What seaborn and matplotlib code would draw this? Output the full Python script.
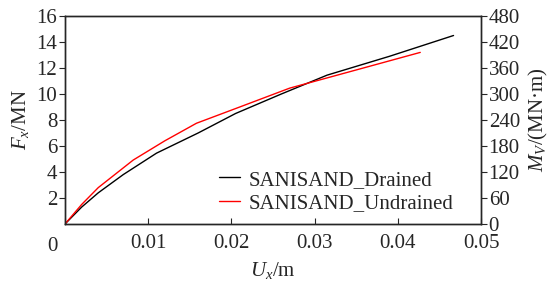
import matplotlib
matplotlib.use("Agg")
import matplotlib.pyplot as plt
import seaborn as sns
import pandas as pd

# Data
drained_ux = [0, 0.002, 0.004, 0.007, 0.011, 0.016, 0.0205, 0.026, 0.0315, 0.039, 0.0467]
drained_fx = [0, 1.3, 2.4, 3.8, 5.45, 7.0, 8.5, 10.0, 11.45, 12.9, 14.5]
undrained_ux = [0, 0.002, 0.004, 0.0082, 0.012, 0.0158, 0.021, 0.027, 0.035, 0.0427]
undrained_fx = [0, 1.5, 2.8, 4.92, 6.4, 7.75, 9.0, 10.45, 11.85, 13.2]
labels = ["SANISAND_Drained", "SANISAND_Undrained"]
x_ticks = [0, 0.01, 0.02, 0.03, 0.04, 0.05]
x_ticklabels = ["", "0.01", "0.02", "0.03", "0.04", "0.05"]
left_ticks = [2, 4, 6, 8, 10, 12, 14, 16]
right_ticks = [0, 60, 120, 180, 240, 300, 360, 420, 480]

sns.set_style("ticks")
plt.rcParams["font.family"] = ["Liberation Serif", "DejaVu Serif"]
plt.rcParams["mathtext.fontset"] = "custom"
plt.rcParams["mathtext.rm"] = "Liberation Serif"
plt.rcParams["mathtext.it"] = "Liberation Serif:italic"
plt.rcParams["font.size"] = 15

df = pd.concat([
    pd.DataFrame({"ux": drained_ux, "fx": drained_fx, "series": labels[0]}),
    pd.DataFrame({"ux": undrained_ux, "fx": undrained_fx, "series": labels[1]}),
])

fig = plt.figure(figsize=(5.5, 2.86), dpi=100)
ax = fig.add_axes([65/550, 1-224/286, 416/550, 208/286])
sns.lineplot(data=df, x="ux", y="fx", hue="series", palette={labels[0]: "black", labels[1]: "#ff0000"},
             sort=False, estimator=None, lw=1.0, ax=ax)
ax.set_xlim(0, 0.05)
ax.set_ylim(0, 16)
ax.set_xticks(x_ticks)
ax.set_xticklabels(x_ticklabels)
ax.set_yticks(left_ticks)
ax.tick_params(axis="x", direction="in", length=4, width=0.8, pad=7.5, labelsize=15)
ax.tick_params(axis="y", direction="out", length=4, width=0.8, pad=1.5, labelsize=15)
ax.annotate("0", xy=(-0.031, 0), xycoords="axes fraction", xytext=(0, -9.5),
            textcoords="offset points", ha="center", va="top", fontsize=15)
ax.set_xlabel(r"$U_x$/m", fontsize=15, labelpad=5)
ax.set_ylabel(r"$F_x$/MN", fontsize=15, labelpad=4)
for s in ax.spines.values():
    s.set_linewidth(1.0)

ax2 = ax.twinx()
ax2.set_ylim(0, 480)
ax2.set_yticks(right_ticks)
ax2.tick_params(axis="y", direction="out", length=4, width=0.8, pad=1.5, labelsize=15)
ax2.set_ylabel(r"$M_V$/(MN·m)", fontsize=15, rotation=90, labelpad=5)
for s in ax2.spines.values():
    s.set_linewidth(1.0)

leg = ax.legend(loc="center left", bbox_to_anchor=(0.346, 0.155), frameon=False,
                handlelength=1.0, handletextpad=0.4, labelspacing=0.2,
                borderpad=0, fontsize=15)

fig.savefig("out.png", dpi=100)
